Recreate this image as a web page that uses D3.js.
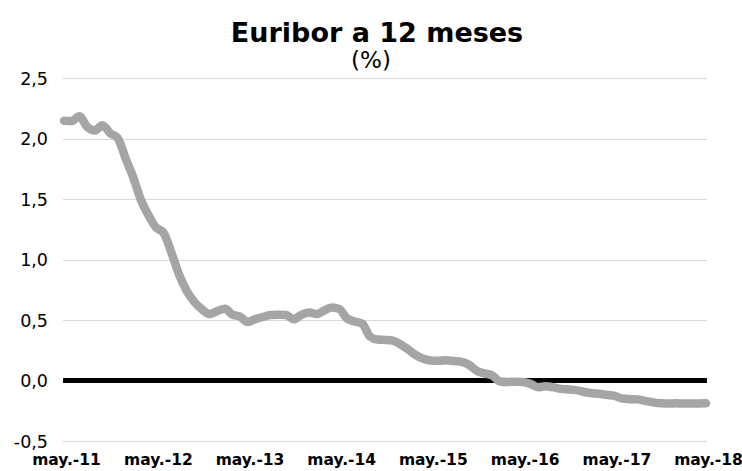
<!DOCTYPE html>
<html>
<head>
<meta charset="utf-8">
<script src="https://cdn.jsdelivr.net/npm/d3@7"></script>
<style>
  body { margin: 0; background: #fff; }
  svg text { font-family: "DejaVu Sans", Verdana, sans-serif; fill: #000; }
</style>
</head>
<body>
<div id="chart"></div>
<script>
// Euribor 12 meses, media mensual, may. 2011 - may. 2018
const startYear = 2011;
const startMonth = 4; // mayo
const euribor = [
    2.147, 2.144, 2.183, 2.097, 2.067, 2.110, 2.044, 2.004,
    1.837, 1.678, 1.499, 1.368, 1.266, 1.219, 1.061, 0.877, 0.740, 0.650, 0.588, 0.549,
    0.575, 0.594, 0.545, 0.528, 0.484, 0.507, 0.525, 0.542, 0.543, 0.541, 0.506, 0.543,
    0.562, 0.549, 0.577, 0.604, 0.592, 0.513, 0.488, 0.469, 0.362, 0.338, 0.335, 0.329,
    0.298, 0.255, 0.212, 0.180, 0.165, 0.163, 0.168, 0.161, 0.154, 0.128, 0.079, 0.059,
    0.042, -0.008, -0.012, -0.010, -0.013, -0.028, -0.056, -0.048, -0.057, -0.069, -0.074, -0.080,
    -0.095, -0.106, -0.110, -0.119, -0.127, -0.149, -0.154, -0.156, -0.168, -0.180, -0.189, -0.190,
    -0.189, -0.191, -0.191, -0.190, -0.188
];
const yTicks = [-0.5, 0, 0.5, 1.0, 1.5, 2.0, 2.5];
const xTickLabels = ['may.-11', 'may.-12', 'may.-13', 'may.-14', 'may.-15', 'may.-16', 'may.-17', 'may.-18'];

const data = euribor.map((v, i) => ({ date: new Date(startYear, startMonth + i, 1), value: v }));
const xTickDates = xTickLabels.map((d, i) => new Date(startYear + i, startMonth, 1));

const width = 742, height = 471;
const margin = { left: 64, right: 36, top: 78, bottom: 30 };

const svg = d3.select('#chart').append('svg')
    .attr('width', width)
    .attr('height', height);

const x = d3.scaleTime()
    .domain(d3.extent(data, d => d.date))
    .range([margin.left, width - margin.right]);

const y = d3.scaleLinear()
    .domain([-0.5, 2.5])
    .range([height - margin.bottom, margin.top]);

// gridlines
svg.append('g')
    .selectAll('line')
    .data(yTicks.filter(d => d !== 0))
    .enter()
    .append('line')
    .attr('x1', margin.left - 1)
    .attr('x2', width - margin.right + 1)
    .attr('y1', d => Math.round(y(d)) + 0.5)
    .attr('y2', d => Math.round(y(d)) + 0.5)
    .style('stroke', '#d9d9d9')
    .style('stroke-width', 1);

// y axis labels
const yAxis = d3.axisLeft(y)
    .tickValues(yTicks)
    .tickSize(0)
    .tickPadding(16)
    .tickFormat(d => d3.format('.1f')(d).replace('.', ',').replace('−', '-'));

svg.append('g')
    .attr('transform', `translate(${margin.left},0)`)
    .call(yAxis)
    .call(g => g.select('.domain').remove())
    .selectAll('text')
    .style('font-size', '17.5px')
    .attr('dy', '0.36em');

// zero line
svg.append('line')
    .attr('x1', margin.left - 1)
    .attr('x2', width - margin.right + 1)
    .attr('y1', y(0))
    .attr('y2', y(0))
    .style('stroke', '#000')
    .style('stroke-width', 5);

// x axis labels
const xAxis = d3.axisBottom(x)
    .tickValues(xTickDates)
    .tickSize(0)
    .tickPadding(0)
    .tickFormat((d, i) => xTickLabels[i]);

svg.append('g')
    .attr('transform', `translate(0,${height - 11})`)
    .call(xAxis)
    .call(g => g.select('.domain').remove())
    .selectAll('text')
    .attr('dy', '0.35em')
    .attr('dx', 2)
    .style('font-size', '15.5px')
    .style('font-weight', 'bold');

// line
const line = d3.line()
    .x(d => x(d.date))
    .y(d => y(d.value))
    .curve(d3.curveMonotoneX);

svg.append('path')
    .datum(data)
    .attr('d', line)
    .style('fill', 'none')
    .style('stroke', '#a5a5a5')
    .style('stroke-width', 8.5)
    .style('stroke-linecap', 'round')
    .style('stroke-linejoin', 'round');

// title
svg.append('text')
    .attr('x', 377)
    .attr('y', 42)
    .text('Euribor a 12 meses')
    .style('text-anchor', 'middle')
    .style('font-size', '27px')
    .style('font-weight', 'bold');

svg.append('text')
    .attr('x', 371)
    .attr('y', 68)
    .text('(%)')
    .style('text-anchor', 'middle')
    .style('font-size', '23px');
</script>
</body>
</html>
